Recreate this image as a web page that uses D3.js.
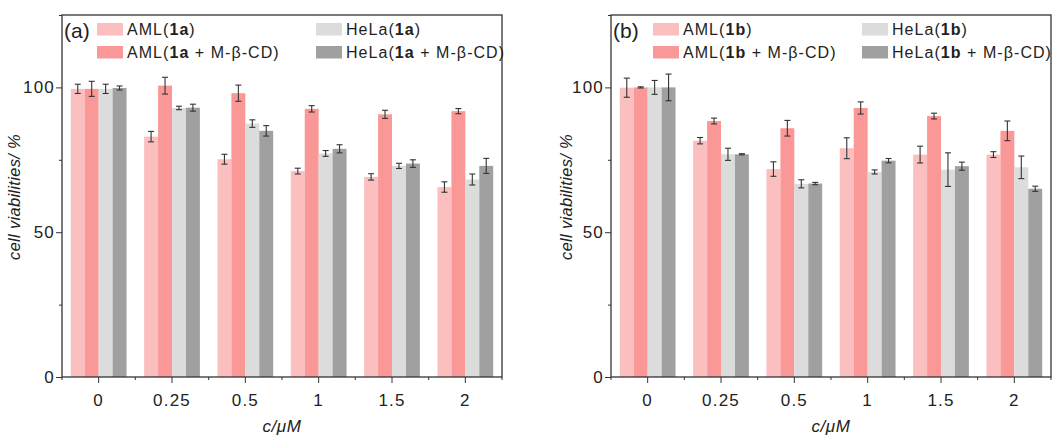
<!DOCTYPE html>
<html>
<head>
<meta charset="utf-8">
<script src="https://cdn.jsdelivr.net/npm/d3@7"></script>
<style>
  body { margin: 0; background: #fff; }
  svg text { font-family: "Liberation Sans", Arial, sans-serif; fill: #222; }
</style>
</head>
<body>
<div id="chart"></div>
<script>
'use strict';

// Data
const concentrations = ['0', '0.25', '0.5', '1', '1.5', '2'];
const seriesKeys = ['aml', 'amlCd', 'hela', 'helaCd'];
const seriesColors = ['#fcbfc0', '#fa9898', '#dcdcdc', '#a0a0a0'];

// panel (a): compound 1a
const amlA      = [99.5, 83.0, 75.2, 71.1, 69.1, 65.6];
const amlA_err  = [1.6, 1.8, 1.7, 1.0, 1.1, 1.8];
const amlCdA    = [99.5, 100.6, 98.0, 92.6, 90.7, 91.8];
const amlCdA_err = [2.6, 2.9, 2.8, 1.1, 1.4, 0.9];
const helaA     = [99.5, 92.9, 87.5, 77.2, 72.9, 68.2];
const helaA_err = [1.6, 0.6, 1.3, 1.0, 0.9, 1.9];
const helaCdA   = [99.8, 93.0, 85.0, 78.8, 73.7, 72.9];
const helaCdA_err = [0.7, 1.2, 1.8, 1.4, 1.3, 2.6];

// panel (b): compound 1b
const amlB      = [99.9, 81.6, 71.8, 79.0, 76.8, 76.8];
const amlB_err  = [3.3, 1.1, 2.5, 3.6, 2.9, 1.0];
const amlCdB    = [100.0, 88.4, 85.9, 92.9, 90.1, 85.0];
const amlCdB_err = [0.2, 1.0, 2.7, 2.1, 1.0, 3.4];
const helaB     = [100.0, 76.9, 66.7, 70.8, 71.6, 72.4];
const helaB_err = [2.4, 2.1, 1.4, 0.7, 5.8, 3.9];
const helaCdB   = [100.0, 76.9, 66.8, 74.7, 72.8, 65.0];
const helaCdB_err = [4.6, 0.2, 0.4, 0.75, 1.4, 0.9];

const yTicks = [0, 25, 50, 75, 100, 125];
const yLabels = [0, 50, 100];

const panels = [
    {tag: '(a)', cpd: '1a', left: 62, values: [amlA, amlCdA, helaA, helaCdA],
     errors: [amlA_err, amlCdA_err, helaA_err, helaCdA_err]},
    {tag: '(b)', cpd: '1b', left: 611, values: [amlB, amlCdB, helaB, helaCdB],
     errors: [amlB_err, amlCdB_err, helaB_err, helaCdB_err]}
];

const W = 1060, H = 437;
const plotW = 440, plotTop = 15, plotBottom = 377;

const svg = d3.select('#chart').append('svg')
    .attr('width', W)
    .attr('height', H);

function legendLabel(sel, cell, cpd, withCd) {
    sel.append('tspan').text(cell + '(');
    sel.append('tspan').attr('font-weight', 'bold').text(cpd);
    if (withCd) sel.append('tspan').text(' + M-β-CD');
    sel.append('tspan').text(')');
}

panels.forEach(function(p) {
    const g = svg.append('g').attr('transform', 'translate(' + p.left + ',0)');

    const x = d3.scaleBand().domain(concentrations).range([0, plotW]).padding(0);
    const groupW = x.bandwidth() * 0.76;
    const xs = d3.scaleBand().domain(seriesKeys).range([-groupW / 2, groupW / 2]);
    const y = d3.scaleLinear().domain([0, 125]).range([plotBottom, plotTop]);

    // bars
    seriesKeys.forEach(function(key, si) {
        const rows = concentrations.map(function(c, i) {
            return {c: c, v: p.values[si][i], e: p.errors[si][i]};
        });
        const sg = g.append('g');
        sg.selectAll('rect')
            .data(rows)
            .enter()
            .append('rect')
            .attr('x', function(d) { return x(d.c) + x.bandwidth() / 2 + xs(key); })
            .attr('y', function(d) { return y(d.v); })
            .attr('width', xs.bandwidth())
            .attr('height', function(d) { return y(0) - y(d.v); })
            .attr('fill', seriesColors[si]);

        const eg = sg.selectAll('g.err')
            .data(rows)
            .enter()
            .append('g')
            .attr('transform', function(d) {
                return 'translate(' + (x(d.c) + x.bandwidth() / 2 + xs(key) + xs.bandwidth() / 2) + ',0)';
            })
            .attr('stroke', '#333')
            .attr('stroke-width', 1.1);
        eg.append('line')
            .attr('y1', function(d) { return y(d.v - d.e); })
            .attr('y2', function(d) { return y(d.v + d.e); });
        eg.append('line').attr('x1', -3).attr('x2', 3)
            .attr('y1', function(d) { return y(d.v - d.e); })
            .attr('y2', function(d) { return y(d.v - d.e); });
        eg.append('line').attr('x1', -3).attr('x2', 3)
            .attr('y1', function(d) { return y(d.v + d.e); })
            .attr('y2', function(d) { return y(d.v + d.e); });
    });

    // frame
    g.append('rect')
        .attr('x', 0).attr('y', plotTop)
        .attr('width', plotW).attr('height', plotBottom - plotTop)
        .attr('fill', 'none')
        .attr('stroke', '#333')
        .attr('stroke-width', 1.3);

    // y axis
    const yAxis = d3.axisLeft(y)
        .tickValues(yTicks)
        .tickSize(6)
        .tickFormat(function(d) { return yLabels.indexOf(d) >= 0 ? d : ''; });
    const ya = g.append('g').call(yAxis);
    ya.select('.domain').remove();
    ya.selectAll('.tick line')
        .attr('stroke', '#333')
        .attr('x2', function(d) { return yLabels.indexOf(d) >= 0 ? -6 : -3; });
    ya.selectAll('.tick text')
        .attr('font-size', 17)
        .attr('letter-spacing', 1.2)
        .attr('x', -7)
        .attr('fill', '#222');

    // x axis: major ticks at centres, minor at boundaries
    const xAxis = d3.axisBottom(x).tickSize(6).tickPadding(11);
    const xa = g.append('g').attr('transform', 'translate(0,' + plotBottom + ')').call(xAxis);
    xa.select('.domain').remove();
    xa.selectAll('.tick line').attr('stroke', '#333');
    xa.selectAll('.tick text')
        .attr('font-size', 17)
        .attr('letter-spacing', 1.2)
        .attr('fill', '#222');
    const bounds = concentrations.map(function(c) { return x(c); }).concat([plotW]);
    xa.selectAll('line.minor')
        .data(bounds)
        .enter()
        .append('line')
        .attr('class', 'minor')
        .attr('x1', function(d) { return d; })
        .attr('x2', function(d) { return d; })
        .attr('y2', 3)
        .attr('stroke', '#333');

    // axis titles
    g.append('text')
        .attr('x', plotW / 2)
        .attr('y', 432)
        .attr('text-anchor', 'middle')
        .attr('font-size', 17)
        .attr('font-style', 'italic')
        .attr('letter-spacing', 0.6)
        .text('c/μM');

    g.append('text')
        .attr('transform', 'translate(' + (p.left === 62 ? -42 : -39) + ',' + 197 + ') rotate(-90)')
        .attr('text-anchor', 'middle')
        .attr('font-size', 16.5)
        .attr('font-style', 'italic')
        .attr('letter-spacing', 0.3)
        .text('cell viabilities/ %');

    // panel tag
    g.append('text')
        .attr('x', 2)
        .attr('y', 38)
        .attr('font-size', 21)
        .text(p.tag);

    // legend
    const legendItems = [
        {cell: 'AML', cd: false, col: 0, row: 0, si: 0},
        {cell: 'HeLa', cd: false, col: 1, row: 0, si: 2},
        {cell: 'AML', cd: true, col: 0, row: 1, si: 1},
        {cell: 'HeLa', cd: true, col: 1, row: 1, si: 3}
    ];
    const colX = p.left === 62 ? [35, 254] : [42, 251];
    legendItems.forEach(function(it) {
        const lx = colX[it.col], ly = it.row === 0 ? 29.5 : 52.5;
        g.append('rect')
            .attr('x', lx).attr('y', ly - 6.5)
            .attr('width', 26).attr('height', 12.5)
            .attr('fill', seriesColors[it.si]);
        const t = g.append('text')
            .attr('x', lx + 30)
            .attr('y', ly + 5.5)
            .attr('font-size', 16)
            .attr('letter-spacing', 1.05);
        legendLabel(t, it.cell, p.cpd, it.cd);
    });
});
</script>
</body>
</html>
